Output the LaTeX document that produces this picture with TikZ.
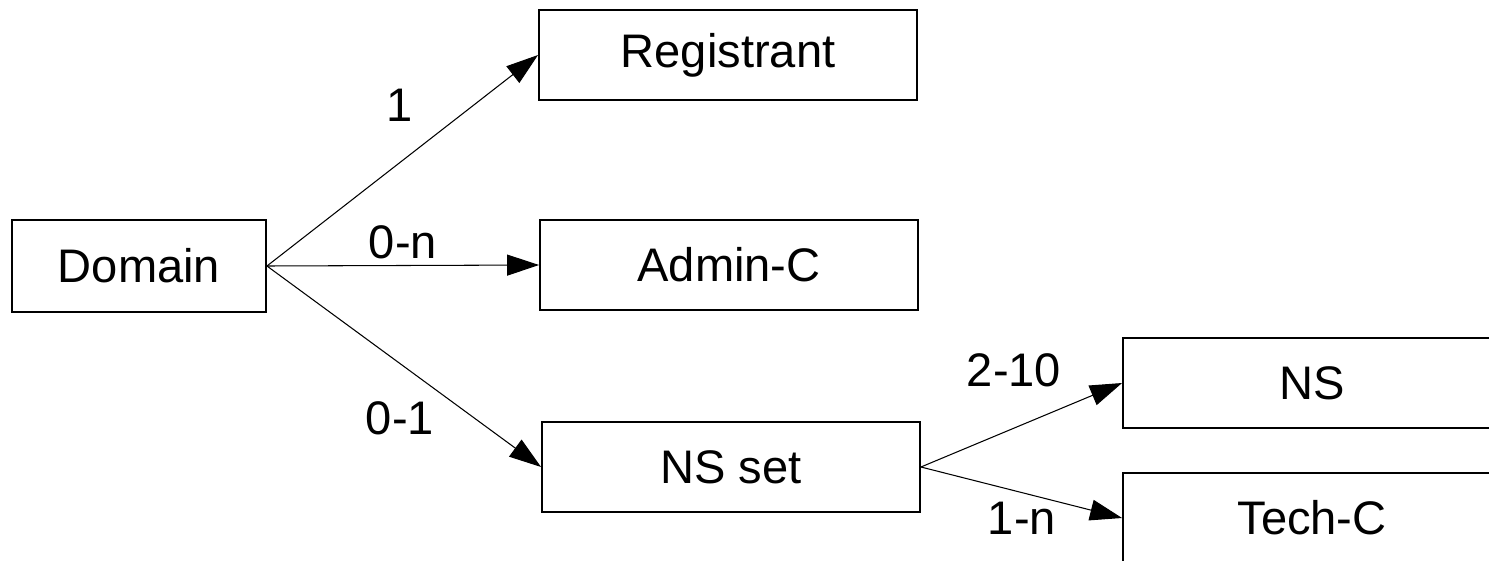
\documentclass[tikz,border=0pt]{standalone}
\usepackage{fontspec}
\setmainfont{Liberation Sans}
\usetikzlibrary{arrows.meta}
\tikzset{
  entity/.style={draw, line width=1.1pt, minimum width=7.56cm, minimum height=1.8cm,
    inner sep=0pt, font=\fontsize{26.8}{32}\selectfont},
  rel/.style={-{Triangle[length=0.64cm,width=0.42cm]}, line width=0.6pt},
  card/.style={inner sep=0pt, font=\fontsize{26.8}{32}\selectfont}
}

\begin{document}
\begin{tikzpicture}[x=0.02cm, y=-0.02cm]
                \useasboundingbox (0,0) rectangle (1489,561);
                \clip (0,0) rectangle (1489,561);

                % entities
                \node[entity, minimum width=5.08cm, minimum height=1.84cm] (domain) at (139,266) {Domain};
                \node[entity] (registrant) at (728,55) {Registrant};
                \node[entity] (adminc) at (729,265) {Admin-C};
                \node[entity] (nsset) at (731,467) {NS set};
                \node[entity] (ns) at (1312,383) {NS};
                \node[entity] (techc) at (1312,518) {Tech-C};

                % relations
                \draw[rel] (domain.east) -- (registrant.west);
                \draw[rel] (domain.east) -- (adminc.west);
                \draw[rel] (domain.east) -- (nsset.west);
                \draw[rel] (nsset.east) -- (ns.west);
                \draw[rel] (nsset.east) -- (techc.west);

                % cardinalities
                \node[card] (card1) at (400,105) {1};
                \node[card] (card0n) at (403,242) {0-n};
                \node[card] (card01) at (400,418) {0-1};
                \node[card] (card210) at (1014,370) {2-10};
                \node[card] (card1n) at (1022,518) {1-n};
            \end{tikzpicture}
\end{document}
